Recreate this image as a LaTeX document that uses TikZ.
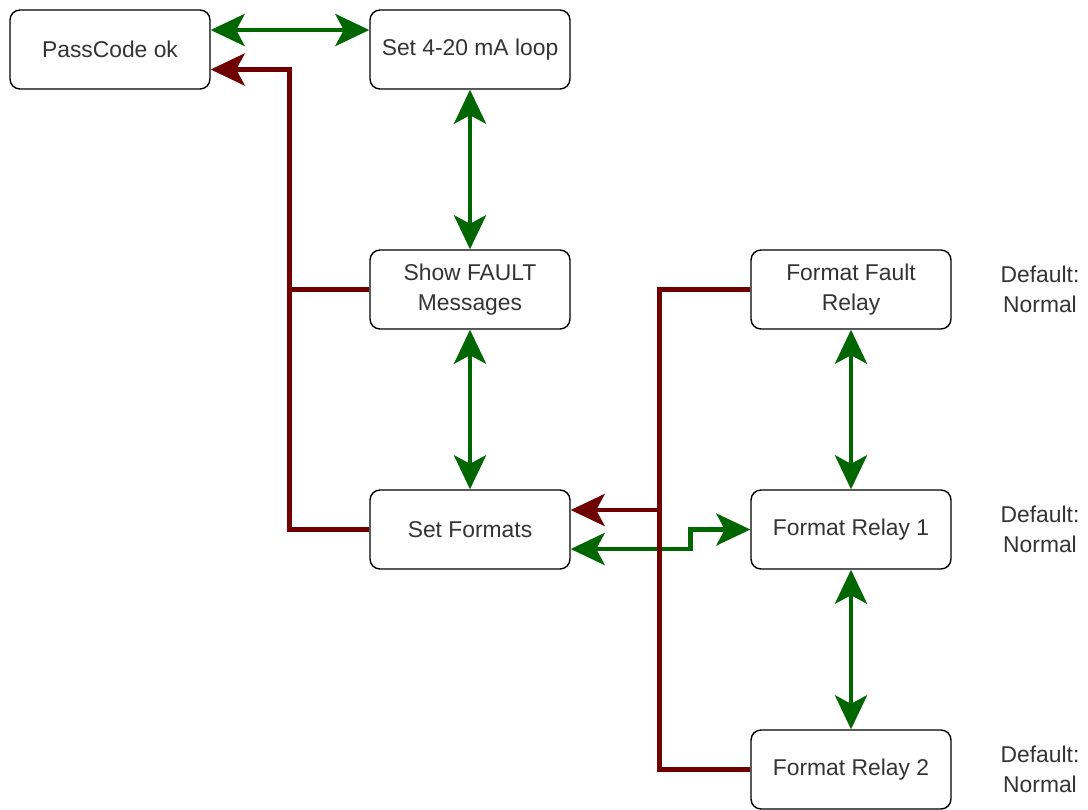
\documentclass[tikz,border=0pt]{standalone}
\usepackage{fontspec}
\setmainfont{Liberation Sans}
\usetikzlibrary{arrows.meta}
\definecolor{okgreen}{HTML}{006600}
\definecolor{backred}{HTML}{6F0000}

\begin{document}
\begin{tikzpicture}[x=0.02cm,y=-0.02cm,
  >={Stealth[length=0.68cm,width=0.64cm,inset=0.17cm]},
  state/.style={draw, rounded corners=0.2cm, line width=0.8pt,
    minimum width=4cm, minimum height=1.58cm, align=center,
    font=\fontsize{13}{17}\selectfont, text=black!80},
  note/.style={align=center, font=\fontsize{13}{17}\selectfont, text=black!80},
  fwd/.style={draw=okgreen, line width=2.8pt, <->},
  back/.style={draw=backred, line width=2.8pt}]
\useasboundingbox (0,0) rectangle (1088,809);

\node[state] (pass) at (110,49.5) {PassCode ok};
\node[state] (loop) at (470,49.5) {Set 4-20 mA loop};
\node[state] (fault) at (470,289.5) {Show FAULT\\Messages};
\node[state] (formats) at (470,529.5) {Set Formats};
\node[state] (ffr) at (851,289.5) {Format Fault\\Relay};
\node[state] (fr1) at (851,529.5) {Format Relay 1};
\node[state] (fr2) at (851,769.5) {Format Relay 2};

\node[note] (d0) at (1040,289.5) {Default:\\Normal};
\node[note] (d1) at (1040,529.5) {Default:\\Normal};
\node[note] (d2) at (1040,769.5) {Default:\\Normal};

% forward / backward steps
\draw[fwd] ([yshift=0.39cm]pass.east) -- ([yshift=0.39cm]loop.west);
\draw[fwd] (loop) -- (fault);
\draw[fwd] (fault) -- (formats);
\draw[fwd] (ffr) -- (fr1);
\draw[fwd] (fr1) -- (fr2);
\draw[fwd] ([yshift=-0.39cm]formats.east) -- ++(120,0) |- (fr1.west);

% return paths
\draw[back,->] (fault.west) -- ++(-80,0) |- ([yshift=-0.4cm]pass.east);
\draw[back] (formats.west) -- ++(-80,0) coordinate (lj) -- (lj |- fault.west);
\draw[back] (ffr.west) -- ++(-91,0) |- (fr2.west);
\draw[back,->] ([xshift=-1.82cm,yshift=0.39cm]fr1.west) -- ([yshift=0.39cm]formats.east);

\end{tikzpicture}
\end{document}
